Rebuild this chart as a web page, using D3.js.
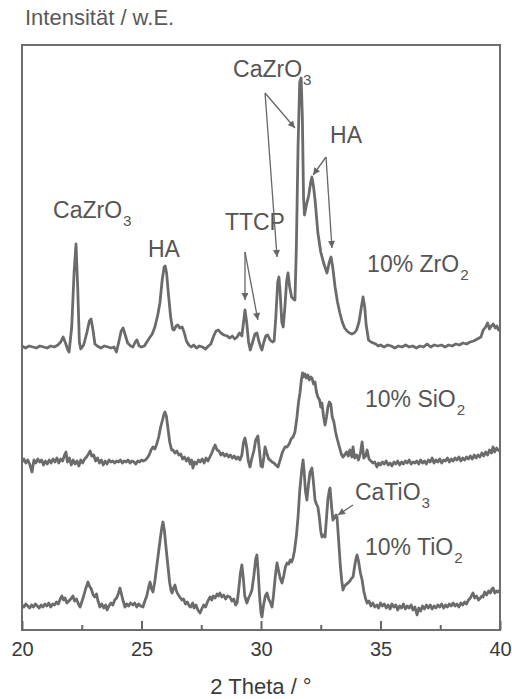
<!DOCTYPE html>
<html>
<head>
<meta charset="utf-8">
<script src="https://cdn.jsdelivr.net/npm/d3@7/dist/d3.min.js"></script>
<style>
  html, body { margin: 0; padding: 0; background: #fff; }
  svg { display: block; font-family: "Liberation Sans", Arial, sans-serif; }
</style>
</head>
<body>
<div id="chart"></div>
<script>
// 2θ in degrees, intensity in arbitrary units (relative to each pattern's own background)
const zro2 = [[20.00,2],[20.15,-2],[20.3,2],[20.45,0],[20.6,-2],[20.75,2],[20.9,0],[21.05,-2],[21.2,2],[21.35,0],[21.5,4],[21.62,10],[21.72,20],[21.82,8],[21.92,-6],[21.97,-10],[22.08,40],[22.18,150],[22.26,206],[22.33,120],[22.4,10],[22.46,-4],[22.58,4],[22.72,30],[22.82,52],[22.89,56],[22.97,34],[23.05,6],[23.15,2],[23.3,-2],[23.45,2],[23.6,0],[23.72,-2],[23.85,0],[23.95,-10],[24.05,10],[24.15,32],[24.23,38],[24.32,24],[24.42,8],[24.55,2],[24.64,0],[24.74,10],[24.81,14],[24.9,2],[25.0,0],[25.12,2],[25.25,12],[25.36,20],[25.45,26],[25.56,40],[25.68,64],[25.77,88],[25.87,136],[25.95,160],[25.99,162],[26.05,148],[26.13,104],[26.22,60],[26.3,36],[26.36,34],[26.45,42],[26.52,44],[26.6,38],[26.7,40],[26.78,30],[26.88,12],[26.98,4],[27.08,0],[27.18,4],[27.3,-2],[27.42,2],[27.55,0],[27.68,-4],[27.8,2],[27.9,6],[28.02,22],[28.12,32],[28.22,34],[28.32,28],[28.45,24],[28.58,22],[28.7,18],[28.8,22],[28.9,16],[29.0,20],[29.1,28],[29.2,22],[29.27,50],[29.33,74],[29.4,50],[29.48,10],[29.55,-6],[29.65,10],[29.75,26],[29.83,28],[29.92,10],[30.0,-2],[30.04,-6],[30.12,10],[30.2,22],[30.28,24],[30.38,14],[30.48,10],[30.55,12],[30.62,60],[30.7,130],[30.75,140],[30.8,110],[30.87,50],[30.93,40],[31.0,80],[31.07,130],[31.13,148],[31.2,120],[31.28,100],[31.36,96],[31.42,94],[31.48,200],[31.55,400],[31.62,530],[31.68,538],[31.73,460],[31.78,300],[31.82,264],[31.9,284],[32.0,304],[32.08,330],[32.13,340],[32.2,320],[32.27,290],[32.38,228],[32.5,190],[32.62,168],[32.76,148],[32.86,170],[32.93,180],[33.0,160],[33.1,120],[33.2,90],[33.3,68],[33.4,50],[33.5,38],[33.6,32],[33.7,28],[33.8,26],[33.9,28],[34.0,34],[34.1,50],[34.2,80],[34.27,100],[34.34,80],[34.4,44],[34.5,14],[34.6,10],[34.7,8],[34.8,6],[34.9,2],[35.0,4],[35.15,0],[35.3,4],[35.45,2],[35.6,-2],[35.75,2],[35.9,0],[36.05,4],[36.2,0],[36.35,2],[36.5,-2],[36.65,2],[36.8,0],[36.95,6],[37.1,0],[37.25,4],[37.4,2],[37.55,4],[37.7,0],[37.85,4],[38.0,2],[38.15,6],[38.3,4],[38.45,8],[38.6,6],[38.75,10],[38.9,12],[39.05,16],[39.2,20],[39.3,34],[39.4,40],[39.48,48],[39.56,36],[39.64,42],[39.72,46],[39.8,38],[39.87,42],[39.94,34],[40.0,36]];

const sio2 = [[20.0,0],[20.08,6],[20.16,-2],[20.24,4],[20.32,-4],[20.42,-20],[20.5,4],[20.58,-2],[20.66,6],[20.74,0],[20.82,4],[20.9,-6],[20.98,2],[21.06,-4],[21.14,4],[21.22,-2],[21.3,6],[21.38,0],[21.46,8],[21.54,-2],[21.62,6],[21.7,2],[21.78,14],[21.84,20],[21.9,0],[21.98,8],[22.06,-6],[22.14,4],[22.22,-4],[22.3,2],[22.38,-8],[22.46,4],[22.54,-2],[22.62,6],[22.7,10],[22.78,16],[22.85,22],[22.92,12],[23.0,14],[23.08,2],[23.16,8],[23.24,-2],[23.32,4],[23.4,-6],[23.48,2],[23.56,-4],[23.64,4],[23.72,0],[23.8,2],[23.88,-2],[23.96,2],[24.04,0],[24.12,4],[24.2,-2],[24.28,2],[24.36,0],[24.44,4],[24.52,-2],[24.6,2],[24.68,0],[24.76,-4],[24.84,2],[24.92,0],[25.0,4],[25.08,2],[25.16,4],[25.24,8],[25.32,14],[25.4,24],[25.48,30],[25.56,26],[25.64,36],[25.72,50],[25.8,70],[25.88,84],[25.94,96],[25.98,100],[26.04,92],[26.1,70],[26.18,40],[26.26,24],[26.32,24],[26.4,18],[26.48,22],[26.56,14],[26.64,16],[26.72,6],[26.8,10],[26.88,2],[26.96,8],[27.04,-4],[27.1,4],[27.15,-12],[27.22,0],[27.3,-4],[27.38,4],[27.46,0],[27.54,6],[27.62,-2],[27.7,8],[27.78,2],[27.86,10],[27.94,18],[28.02,28],[28.08,34],[28.16,24],[28.24,22],[28.32,14],[28.4,18],[28.48,12],[28.56,16],[28.64,10],[28.72,14],[28.8,8],[28.88,12],[28.96,6],[29.04,10],[29.12,4],[29.2,14],[29.27,40],[29.33,48],[29.4,30],[29.47,2],[29.54,-10],[29.62,8],[29.7,22],[29.78,44],[29.87,52],[29.94,20],[30.0,-8],[30.06,-10],[30.12,10],[30.17,30],[30.24,18],[30.32,6],[30.38,4],[30.46,0],[30.54,-2],[30.62,-6],[30.71,-10],[30.8,4],[30.9,20],[31.0,30],[31.09,30],[31.18,36],[31.26,46],[31.34,50],[31.42,60],[31.5,88],[31.57,120],[31.63,138],[31.69,164],[31.74,178],[31.78,170],[31.84,176],[31.9,168],[31.96,174],[32.02,164],[32.08,170],[32.13,168],[32.2,156],[32.26,160],[32.32,140],[32.38,130],[32.45,124],[32.5,110],[32.55,118],[32.62,90],[32.68,74],[32.74,90],[32.8,110],[32.86,120],[32.92,116],[32.98,90],[33.05,80],[33.12,60],[33.2,44],[33.28,30],[33.36,16],[33.43,10],[33.5,14],[33.58,20],[33.65,12],[33.72,24],[33.8,10],[33.85,30],[33.92,8],[34.0,14],[34.08,4],[34.16,18],[34.23,40],[34.3,8],[34.38,12],[34.44,24],[34.52,6],[34.6,2],[34.68,-2],[34.76,0],[34.85,-10],[34.92,-2],[35.0,-6],[35.08,0],[35.16,-4],[35.24,2],[35.32,-6],[35.4,-2],[35.48,-8],[35.56,0],[35.64,-4],[35.72,2],[35.8,-6],[35.88,0],[35.96,-4],[36.04,2],[36.12,-2],[36.2,4],[36.28,-4],[36.36,0],[36.44,-2],[36.52,2],[36.6,-4],[36.68,4],[36.76,-2],[36.84,2],[36.92,-4],[37.0,4],[37.08,0],[37.16,8],[37.24,-2],[37.32,4],[37.4,0],[37.48,6],[37.56,-2],[37.64,4],[37.72,2],[37.8,8],[37.88,0],[37.96,6],[38.04,2],[38.12,8],[38.2,4],[38.28,10],[38.36,2],[38.44,8],[38.52,4],[38.6,10],[38.68,6],[38.76,12],[38.84,6],[38.92,14],[39.0,8],[39.08,14],[39.16,10],[39.24,18],[39.32,12],[39.4,20],[39.48,14],[39.56,24],[39.64,18],[39.71,30],[39.78,20],[39.86,28],[39.92,24],[40.0,22]];

const tio2 = [[20.0,2],[20.08,-2],[20.16,4],[20.24,0],[20.32,-4],[20.4,2],[20.48,-2],[20.56,4],[20.64,0],[20.72,-4],[20.8,2],[20.88,-2],[20.96,4],[21.04,0],[21.12,6],[21.2,-2],[21.28,4],[21.36,2],[21.44,8],[21.52,4],[21.6,14],[21.67,20],[21.74,12],[21.8,16],[21.88,6],[21.96,10],[22.04,14],[22.13,20],[22.2,10],[22.28,14],[22.36,4],[22.43,-2],[22.5,8],[22.58,20],[22.66,34],[22.72,42],[22.76,48],[22.82,40],[22.9,34],[22.98,22],[23.05,18],[23.12,24],[23.18,10],[23.26,-2],[23.34,4],[23.42,-4],[23.5,2],[23.56,-8],[23.64,0],[23.72,6],[23.8,2],[23.88,12],[23.96,16],[24.04,26],[24.1,36],[24.16,24],[24.22,12],[24.31,-2],[24.38,4],[24.46,0],[24.54,6],[24.64,2],[24.72,6],[24.8,-2],[24.88,4],[24.96,0],[25.06,-2],[25.14,10],[25.22,20],[25.3,38],[25.36,48],[25.42,34],[25.48,28],[25.56,50],[25.64,80],[25.72,110],[25.8,140],[25.86,160],[25.9,168],[25.96,150],[26.02,120],[26.11,78],[26.18,46],[26.24,30],[26.28,26],[26.34,36],[26.4,42],[26.46,30],[26.52,24],[26.6,18],[26.69,12],[26.76,14],[26.84,4],[26.92,8],[27.0,0],[27.06,-2],[27.14,6],[27.2,-4],[27.28,2],[27.36,-8],[27.45,-14],[27.52,-6],[27.6,2],[27.68,-2],[27.76,8],[27.82,14],[27.87,18],[27.94,12],[28.0,20],[28.08,16],[28.16,24],[28.22,20],[28.28,26],[28.36,18],[28.44,22],[28.52,14],[28.6,20],[28.7,18],[28.78,10],[28.86,14],[28.94,2],[29.0,6],[29.06,30],[29.14,66],[29.2,82],[29.26,56],[29.32,20],[29.41,6],[29.48,16],[29.56,24],[29.62,32],[29.7,60],[29.78,94],[29.83,102],[29.88,70],[29.94,20],[30.0,-14],[30.04,-22],[30.1,0],[30.18,20],[30.25,26],[30.32,14],[30.4,6],[30.46,-2],[30.52,20],[30.6,60],[30.67,86],[30.74,70],[30.8,56],[30.88,46],[30.95,60],[31.02,78],[31.09,86],[31.16,84],[31.22,92],[31.28,88],[31.34,96],[31.4,110],[31.48,140],[31.55,178],[31.62,230],[31.7,270],[31.76,292],[31.81,266],[31.86,230],[31.92,212],[31.98,240],[32.05,268],[32.13,276],[32.19,250],[32.26,212],[32.32,204],[32.38,198],[32.44,178],[32.5,150],[32.55,138],[32.62,142],[32.68,138],[32.74,176],[32.8,214],[32.86,232],[32.89,236],[32.95,200],[33.01,172],[33.08,178],[33.14,182],[33.18,178],[33.25,130],[33.32,80],[33.38,50],[33.43,32],[33.5,40],[33.58,44],[33.64,46],[33.72,50],[33.8,56],[33.85,58],[33.92,80],[33.98,96],[34.02,102],[34.08,90],[34.16,66],[34.23,52],[34.3,30],[34.38,14],[34.44,6],[34.52,10],[34.6,0],[34.68,6],[34.76,-2],[34.85,2],[34.92,-4],[35.0,6],[35.08,0],[35.16,4],[35.24,-4],[35.32,2],[35.4,-6],[35.48,4],[35.56,-2],[35.64,2],[35.72,-8],[35.8,0],[35.88,-4],[35.96,4],[36.04,-6],[36.12,0],[36.2,-4],[36.28,2],[36.36,-8],[36.44,-2],[36.53,-18],[36.6,-4],[36.68,-10],[36.76,0],[36.84,-6],[36.92,2],[37.0,-4],[37.08,2],[37.16,-6],[37.24,0],[37.32,-4],[37.4,2],[37.48,-2],[37.56,4],[37.64,-4],[37.72,2],[37.8,-2],[37.88,4],[37.96,0],[38.04,6],[38.12,0],[38.2,4],[38.28,-2],[38.36,6],[38.44,2],[38.52,8],[38.6,4],[38.68,12],[38.76,16],[38.82,22],[38.87,26],[38.94,16],[39.02,20],[39.1,12],[39.18,16],[39.24,20],[39.29,18],[39.36,28],[39.44,22],[39.52,30],[39.6,26],[39.66,34],[39.71,36],[39.78,26],[39.86,30],[39.92,28],[40.0,32]];

// vertical stacking offsets of the three patterns (same units as intensity)
const seriesData = [zro2, sio2, tio2];
const seriesOffset = [566, 336, 48];

// sample labels [main, subscript, 2θ, intensity]
const sampleLabels = [
  ["10% ZrO", "2", 34.44, 716],
  ["10% SiO", "2", 34.35, 446],
  ["10% TiO", "2", 34.35, 150]
];

// phase labels [main, subscript, 2θ, intensity]
const phaseLabels = [
  ["CaZrO", "3", 21.30, 824],
  ["HA", "", 25.27, 746],
  ["TTCP", "", 28.49, 800],
  ["CaZrO", "3", 28.83, 1106],
  ["HA", "", 32.89, 974],
  ["CaTiO", "3", 33.93, 260]
];

// arrows [from 2θ, from I, to 2θ, to I]
const arrows = [
  [30.17, 1074, 31.42, 1004],
  [30.17, 1074, 30.67, 746],
  [32.72, 946, 32.18, 910],
  [32.72, 946, 32.97, 764],
  [29.33, 756, 29.33, 660],
  [29.33, 756, 29.87, 620],
  [33.85, 250, 33.22, 230]
];

const majorTicks = [20, 25, 30, 35, 40];
const minorTicks = [22.5, 27.5, 32.5, 37.5];

const width = 512, height = 699;
const ink = "#555";

const svg = d3.select("#chart").append("svg")
  .attr("width", width)
  .attr("height", height);

const x = d3.scaleLinear().domain([20, 40]).range([22, 500]);
const y = d3.scaleLinear().domain([0, 1170]).range([630, 45]);

// arrowhead
svg.append("defs").append("marker")
  .attr("id", "head")
  .attr("viewBox", "0 0 10 10")
  .attr("refX", 10).attr("refY", 5)
  .attr("markerWidth", 10).attr("markerHeight", 7)
  .attr("markerUnits", "userSpaceOnUse")
  .attr("orient", "auto")
  .append("path")
  .attr("d", "M0,0 L10,5 L0,10 Z")
  .attr("fill", "#666");

// patterns
const line = d3.line()
  .x(d => x(d[0]))
  .y(d => d[1]);

seriesData.forEach((data, i) => {
  svg.append("path")
    .datum(data.map(d => [d[0], y(d[1] + seriesOffset[i])]))
    .attr("fill", "none")
    .attr("stroke", "#6b6b6b")
    .attr("stroke-width", 2.8)
    .attr("stroke-linejoin", "round")
    .attr("d", line);
});

// frame
svg.append("rect")
  .attr("x", x(20)).attr("y", y(1170))
  .attr("width", x(40) - x(20))
  .attr("height", y(0) - y(1170))
  .attr("fill", "none")
  .attr("stroke", "#6e6e6e")
  .attr("stroke-width", 2);

// ticks (inside) + labels
const axisMajor = svg.append("g")
  .attr("transform", `translate(0,${y(0)})`)
  .call(d3.axisBottom(x).tickValues(majorTicks).tickSize(-9).tickPadding(12).tickFormat(d3.format("d")));
axisMajor.select(".domain").remove();
axisMajor.selectAll("line").attr("stroke", "#666").attr("stroke-width", 2);
axisMajor.selectAll("text")
  .attr("fill", "#3a3a3a")
  .style("font-size", "20px")
  .style("font-family", "'Liberation Sans', Arial, sans-serif");

const axisMinor = svg.append("g")
  .attr("transform", `translate(0,${y(0)})`)
  .call(d3.axisBottom(x).tickValues(minorTicks).tickSize(-5).tickFormat(""));
axisMinor.select(".domain").remove();
axisMinor.selectAll("line").attr("stroke", "#666").attr("stroke-width", 2);

// axis titles
svg.append("text")
  .attr("x", (x(20) + x(40)) / 2)
  .attr("y", 694)
  .attr("text-anchor", "middle")
  .attr("fill", "#3a3a3a")
  .style("font-size", "22px")
  .text("2 Theta / °");

svg.append("text")
  .attr("x", 25)
  .attr("y", 25)
  .attr("fill", "#5a5a5a")
  .style("font-size", "22px")
  .text("Intensität / w.E.");

// labels with subscripts
function label(d, size) {
  const t = svg.append("text")
    .attr("x", x(d[2]))
    .attr("y", y(d[3]))
    .attr("fill", ink)
    .style("font-size", size + "px");
  t.append("tspan").text(d[0]);
  if (d[1]) {
    t.append("tspan")
      .attr("dx", 1)
      .attr("dy", 8)
      .style("font-size", (size * 0.66) + "px")
      .text(d[1]);
  }
}
phaseLabels.forEach(d => label(d, 23));
sampleLabels.forEach(d => label(d, 23));

// arrows
svg.selectAll(".arrow")
  .data(arrows)
  .enter()
  .append("line")
  .attr("class", "arrow")
  .attr("x1", d => x(d[0]))
  .attr("y1", d => y(d[1]))
  .attr("x2", d => x(d[2]))
  .attr("y2", d => y(d[3]))
  .attr("stroke", "#666")
  .attr("stroke-width", 1.3)
  .attr("marker-end", "url(#head)");
</script>
</body>
</html>
